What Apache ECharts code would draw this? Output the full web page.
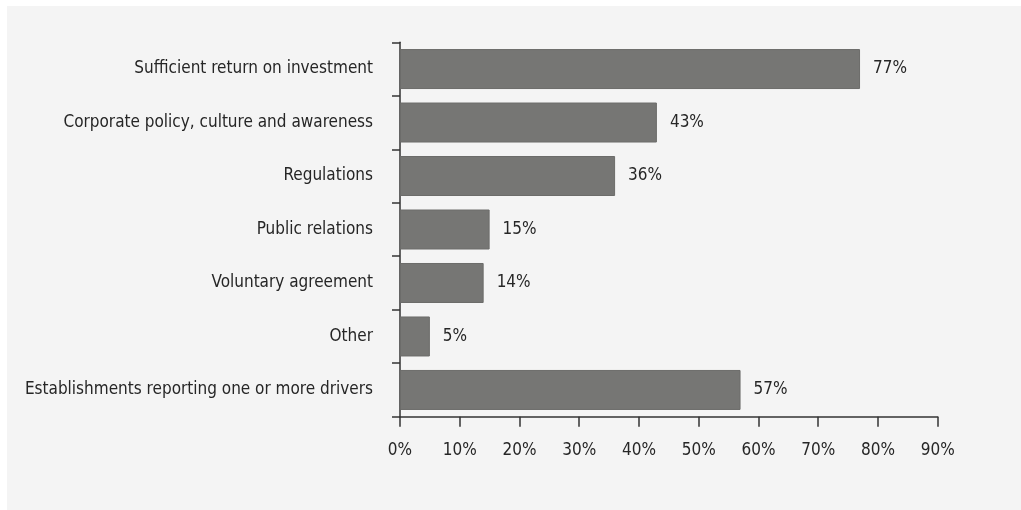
<!DOCTYPE html>
<html>
<head>
<meta charset="utf-8">
<script src="https://cdn.jsdelivr.net/npm/echarts@6/dist/echarts.min.js"></script>
<style>
  html, body { margin: 0; padding: 0; background: #ffffff; }
  #chart { width: 1021px; height: 510px; }
</style>
</head>
<body>
<div id="chart"></div>
<script>
// Drivers reported by establishments (share of establishments, %)
const categories = [
  'Sufficient return on investment',
  'Corporate policy, culture and awareness',
  'Regulations',
  'Public relations',
  'Voluntary agreement',
  'Other',
  'Establishments reporting one or more drivers'
];
const shares = [77, 43, 36, 15, 14, 5, 57];
const axisMax = 90;
const axisStep = 10;

const FONT = '"DejaVu Sans Condensed", "Liberation Sans Narrow", sans-serif';
const INK = '#262626';

const chart = echarts.init(document.getElementById('chart'), null, { renderer: 'canvas' });

chart.setOption({
  backgroundColor: '#ffffff',
  animation: false,
  graphic: [{
    type: 'rect',
    z: -10,
    silent: true,
    shape: { x: 7, y: 6, width: 1014, height: 504 },
    style: { fill: '#f4f4f4' }
  }],
  grid: {
    left: 400,
    top: 42.3,
    right: 83.3,
    bottom: 93.3,
    containLabel: false,
    outerBoundsMode: 'none'
  },
  xAxis: {
    type: 'value',
    min: 0,
    max: axisMax,
    interval: axisStep,
    axisLine: { show: true, lineStyle: { color: '#333333', width: 1.5 } },
    axisTick: { show: true, length: 10, lineStyle: { color: '#333333', width: 1.5 } },
    splitLine: { show: false },
    axisLabel: {
      margin: 25,
      fontFamily: FONT,
      fontSize: 17,
      color: INK,
      formatter: v => v + '%'
    }
  },
  yAxis: {
    type: 'category',
    data: categories,
    inverse: true,
    axisLine: { show: true, lineStyle: { color: '#333333', width: 1.5 } },
    axisTick: { show: true, length: 8, lineStyle: { color: '#333333', width: 1.5 } },
    axisLabel: {
      margin: 27,
      fontFamily: FONT,
      fontSize: 17,
      color: INK
    }
  },
  series: [{
    type: 'bar',
    data: shares,
    barWidth: 40,
    itemStyle: { color: '#767674', borderColor: '#6c6c6a', borderWidth: 1 },
    label: {
      show: true,
      position: 'right',
      distance: 13,
      fontFamily: FONT,
      fontSize: 17,
      color: INK,
      formatter: p => p.value + '%'
    }
  }]
});
</script>
</body>
</html>
